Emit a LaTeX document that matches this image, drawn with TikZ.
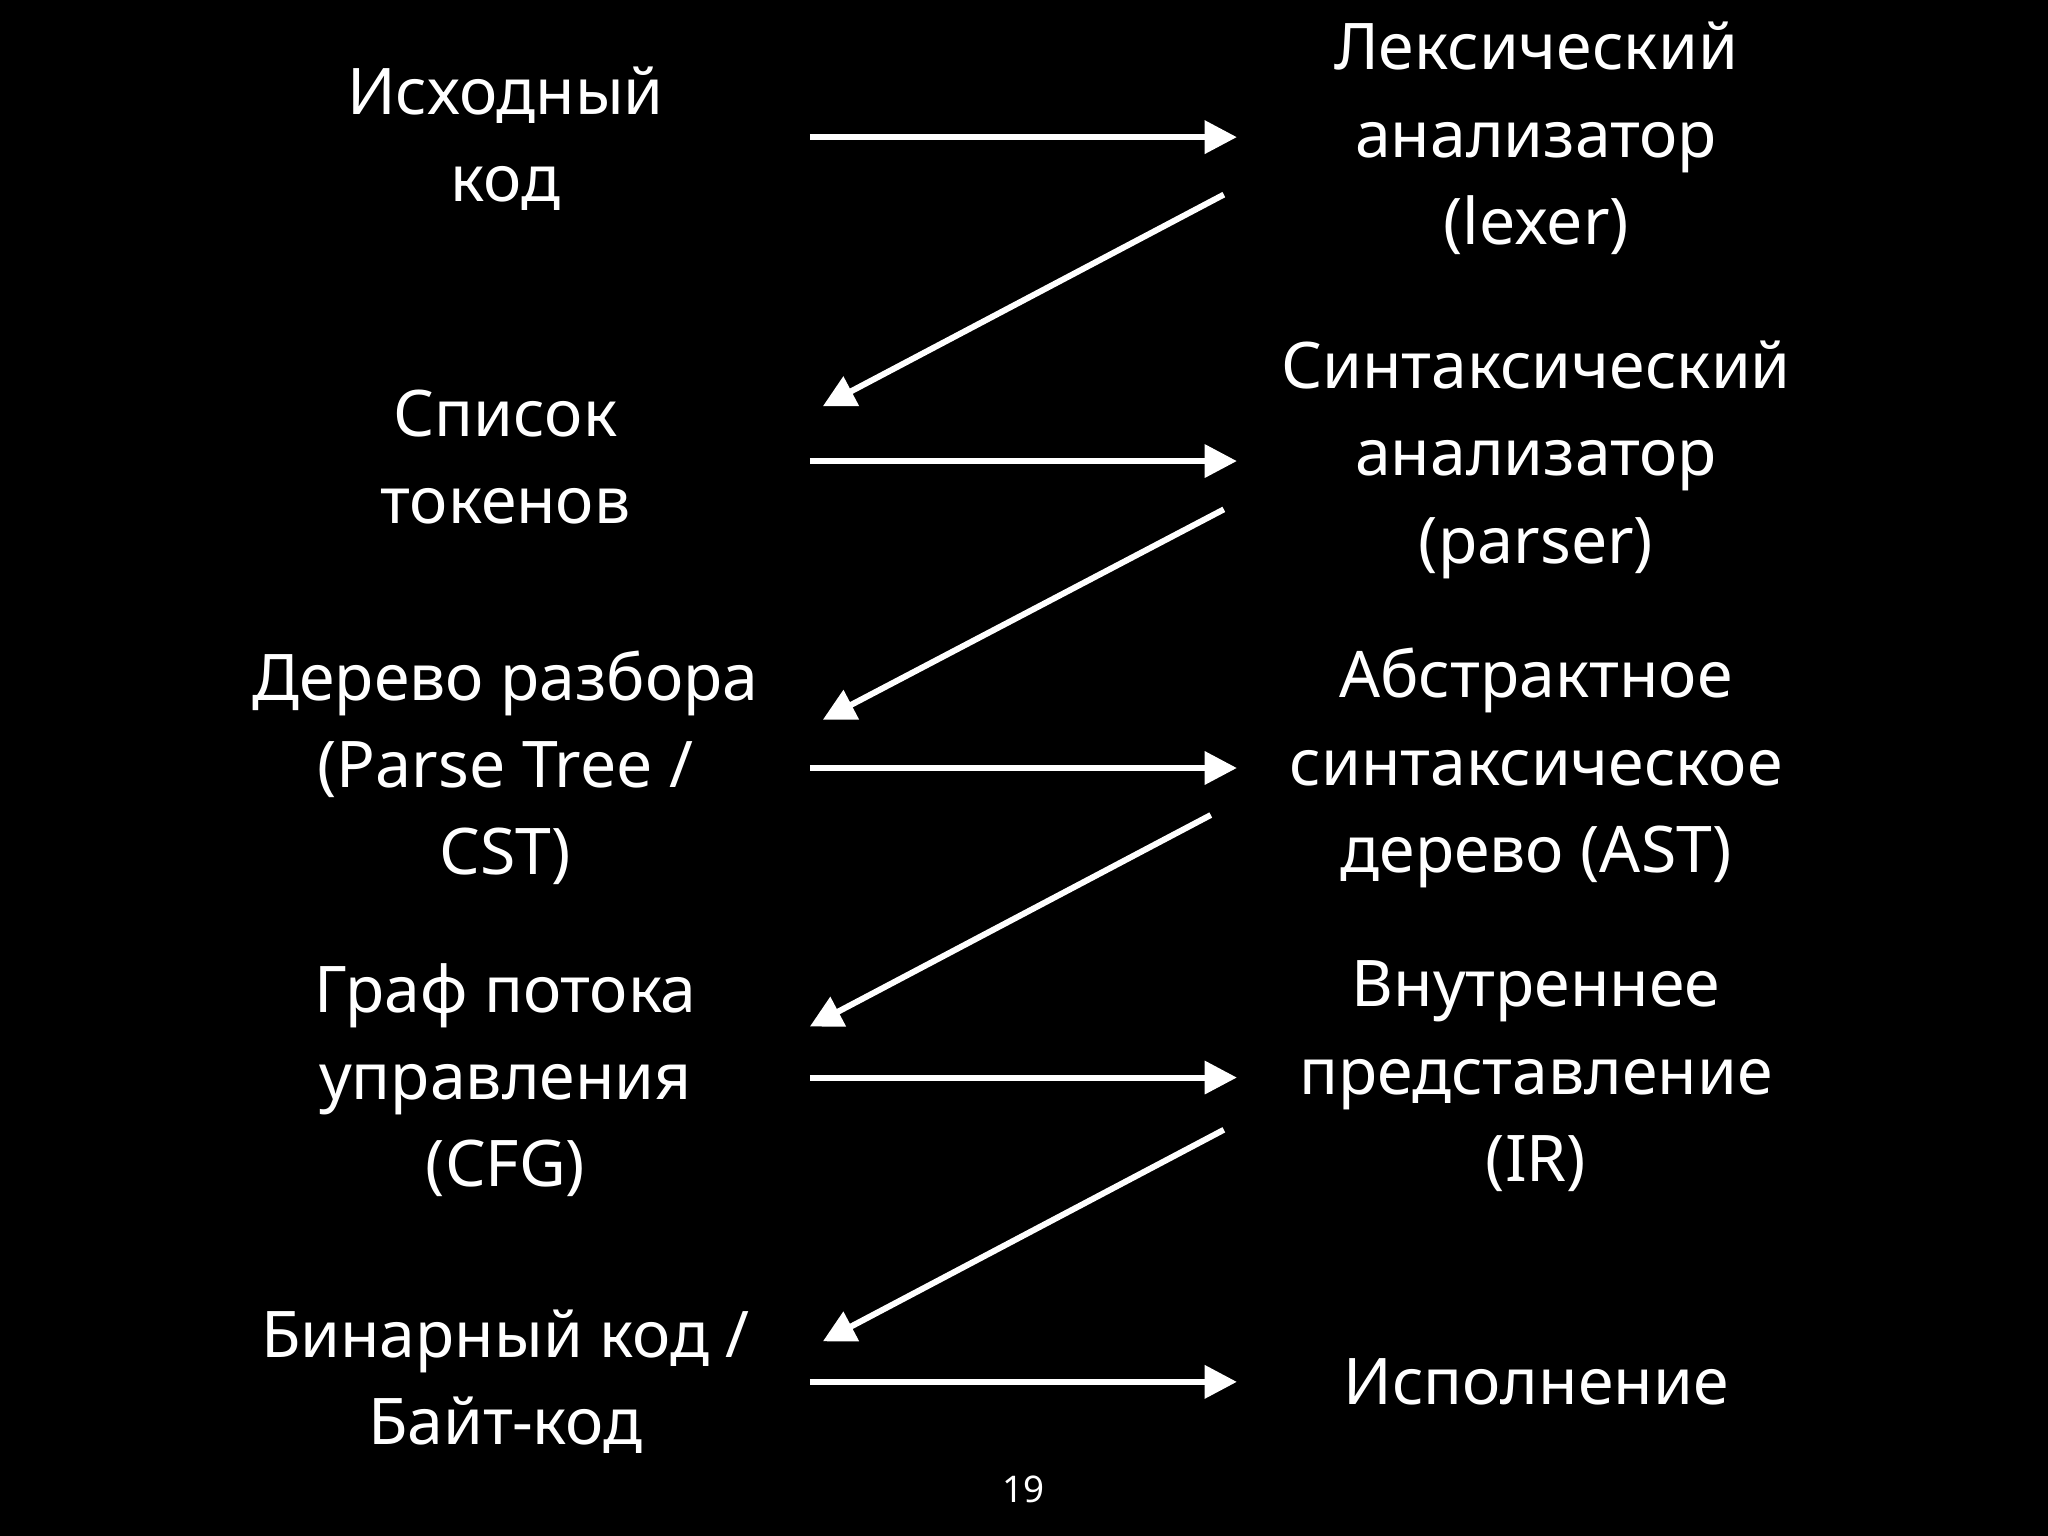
\documentclass[tikz,border=0pt]{standalone}
\usepackage{fontspec}
\setmainfont{Noto Sans}
\usetikzlibrary{arrows.meta}
\begin{document}
\begin{tikzpicture}[x=0.01cm,y=-0.01cm,
  lbl/.style={text=white,align=center,font=\fontsize{14pt}{19pt}\selectfont},
  arr/.style={draw=white,line width=1.3pt,-{Triangle[length=7pt,width=7pt]}}]
\fill[black] (0,0) rectangle (1568,1176);
\useasboundingbox (0,0) rectangle (1568,1176);
\node[lbl] (l1) at (387,106) {Исходный\\код};
\node[lbl] (r1) at (1176,106) {Лексический\\анализатор\\(lexer)};
\node[lbl] (l2) at (387,350) {Список\\токенов};
\node[lbl] (r2) at (1176,352) {Синтаксический\\анализатор\\(parser)};
\node[lbl] (l3) at (387,588) {Дерево разбора\\(Parse Tree /\\CST)};
\node[lbl] (r3) at (1176,588) {Абстрактное\\синтаксическое\\дерево (AST)};
\node[lbl] (l4) at (387,827) {Граф потока\\управления\\(CFG)};
\node[lbl] (r4) at (1176,824) {Внутреннее\\представление\\(IR)};
\node[lbl] (l5) at (387,1058) {Бинарный код /\\Байт-код};
\node[lbl] (r5) at (1176,1058) {Исполнение};
\node[text=white,font=\fontsize{8pt}{10pt}\selectfont] (pg) at (784,1140) {19};
\coordinate (h1a) at (620,105); \coordinate (h1b) at (947,105);
\coordinate (h2a) at (620,353); \coordinate (h2b) at (947,353);
\coordinate (h3a) at (620,588); \coordinate (h3b) at (947,588);
\coordinate (h4a) at (620,825); \coordinate (h4b) at (947,825);
\coordinate (h5a) at (620,1058); \coordinate (h5b) at (947,1058);
\coordinate (d1a) at (937,149); \coordinate (d1b) at (630,311);
\coordinate (d2a) at (937,390); \coordinate (d2b) at (630,551);
\coordinate (d3a) at (927,624); \coordinate (d3b) at (620,786);
\coordinate (d4a) at (937,865); \coordinate (d4b) at (630,1027);
\foreach \i in {1,...,5} \draw[arr] (h\i a) -- (h\i b);
\foreach \i in {1,...,4} \draw[arr] (d\i a) -- (d\i b);
\end{tikzpicture}
\end{document}
